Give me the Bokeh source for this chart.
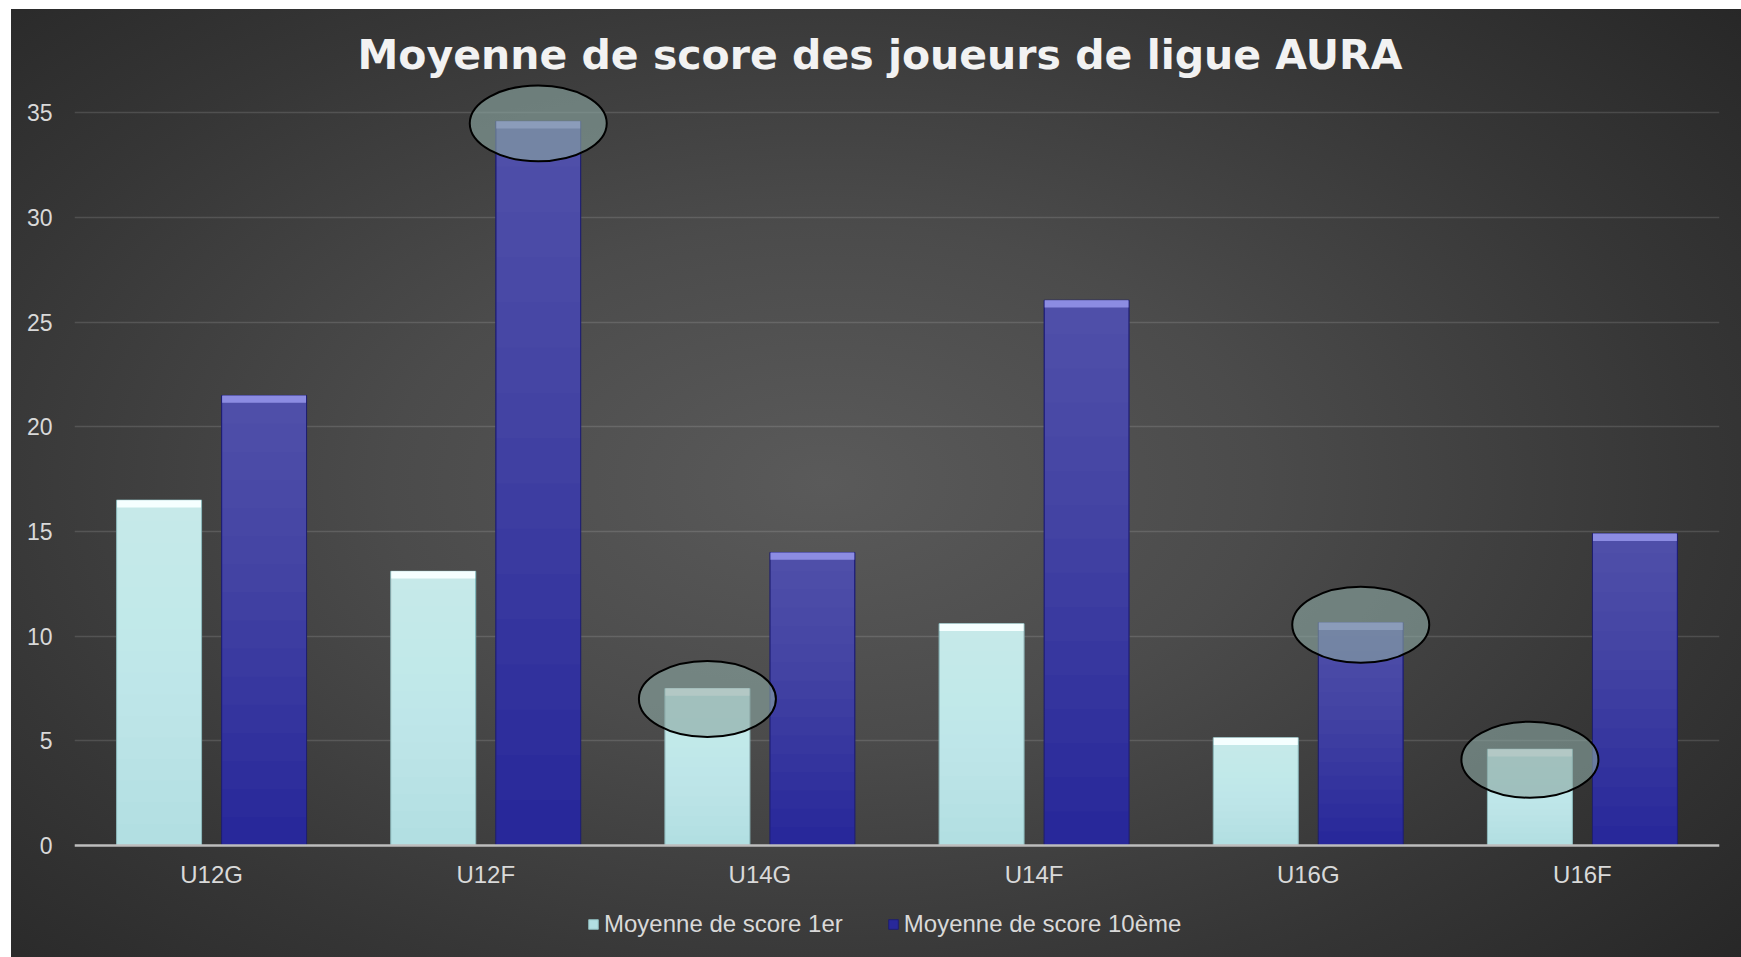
from bokeh.plotting import figure
from bokeh.models import (ColumnDataSource, FixedTicker, Legend, LegendItem, Range1d)
from bokeh.transform import dodge
from bokeh.embed import file_html
from bokeh.resources import INLINE

# ---- data ----
categories = ["U12G", "U12F", "U14G", "U14F", "U16G", "U16F"]
score_1er = [16.5, 13.1, 7.5, 10.6, 5.15, 4.6]
score_10eme = [21.5, 34.6, 14.0, 26.05, 10.65, 14.9]
series_names = ["Moyenne de score 1er", "Moyenne de score 10ème"]
y_ticks = [0, 5, 10, 15, 20, 25, 30, 35]
title_text = "Moyenne de score des joueurs de ligue AURA"
# bars circled in the reference
circled_1er = ["U14G", "U16F"]
circled_10eme = ["U12F", "U16G"]

FONT = "Liberation Sans"
LIGHT_BASE = "#b2dfe2"
LIGHT_OVER = "#e8ffff"
LIGHT_TOP = "#f5ffff"
DARK_BASE = "#28289a"
DARK_OVER = "#ffffff"
DARK_TOP = "#8c8ce2"
N_LAYERS = 16

data = dict(cat=categories, s1=score_1er, s10=score_10eme,
            s1_bev=[v - 0.35 for v in score_1er],
            s10_bev=[v - 0.35 for v in score_10eme])
for k in range(1, N_LAYERS):
    data[f"s1_b{k}"] = [v * k / N_LAYERS for v in score_1er]
    data[f"s10_b{k}"] = [v * k / N_LAYERS for v in score_10eme]
src = ColumnDataSource(data)

# layout: frame from top border to figure bottom; value axis 0..36.5 over 764 px
FIG_W, FIG_H = 1730, 948
B_LEFT, B_RIGHT, B_TOP = 63, 22, 72
Y_TOP = 36.5
PPU = 764 / Y_TOP
frame_h = FIG_H - B_TOP
y_start = Y_TOP - frame_h / PPU

p = figure(x_range=categories, y_range=Range1d(y_start, Y_TOP),
           width=FIG_W, height=FIG_H, output_backend="svg", toolbar_location=None,
           min_border_left=B_LEFT, min_border_right=B_RIGHT, min_border_top=B_TOP,
           min_border_bottom=0)

p.background_fill_alpha = 0
p.border_fill_alpha = 0
p.outline_line_color = None
p.styles = {
    "margin-left": "11px",
    "margin-top": "9px",
    "background": "radial-gradient(ellipse 72% 78% at 47% 50%, #5a5a5a 0%, #4b4b4b 35%, #363636 70%, #262626 100%)",
}

OFF = 0.1915
W = 0.31
xl = dodge("cat", -OFF, range=p.x_range)
xd = dodge("cat", OFF, range=p.x_range)

# light series (1er)
r1 = p.vbar(x=xl, top="s1", width=W, source=src,
            fill_color=LIGHT_BASE, line_color="#8cb8bb", line_width=1)
for k in range(1, N_LAYERS):
    p.vbar(x=xl, top="s1", bottom=f"s1_b{k}", width=W - 0.004, source=src,
           fill_color=LIGHT_OVER, fill_alpha=0.045, line_color=None)
p.vbar(x=xl, top="s1", bottom="s1_bev", width=W - 0.004, source=src,
       fill_color=LIGHT_TOP, line_color=None)

# dark series (10ème)
r10 = p.vbar(x=xd, top="s10", width=W, source=src,
             fill_color=DARK_BASE, line_color="#1e1e6e", line_width=1)
for k in range(1, N_LAYERS):
    p.vbar(x=xd, top="s10", bottom=f"s10_b{k}", width=W - 0.004, source=src,
           fill_color=DARK_OVER, fill_alpha=0.016, line_color=None)
p.vbar(x=xd, top="s10", bottom="s10_bev", width=W - 0.004, source=src,
       fill_color=DARK_TOP, line_color=None)

# circled bars
e1 = ColumnDataSource(dict(cat=circled_1er,
                           y=[score_1er[categories.index(c)] - 0.5 for c in circled_1er]))
e10 = ColumnDataSource(dict(cat=circled_10eme,
                            y=[score_10eme[categories.index(c)] - 0.1 for c in circled_10eme]))
for s, off in ((e1, -OFF), (e10, OFF)):
    p.ellipse(x=dodge("cat", off, range=p.x_range), y="y", width=137, height=76,
              width_units="screen", height_units="screen", source=s,
              fill_color="#8aa6a2", fill_alpha=0.62, line_color="#000000", line_width=2)

# title
p.title.text = title_text
p.title.align = "left"
p.title.offset = 283
p.title.text_font = "DejaVu Sans"
p.title.text_font_style = "bold"
p.title.text_font_size = "41px"
p.title.text_color = "#f2f2f2"
p.title.standoff = 5

# axes
p.yaxis.ticker = FixedTicker(ticks=y_ticks)
p.yaxis.axis_line_color = None
p.yaxis.major_tick_line_color = None
p.yaxis.minor_tick_line_color = None
p.yaxis.major_tick_out = 0
p.yaxis.major_tick_in = 0
p.yaxis.major_label_standoff = 22
p.yaxis.major_label_text_font = FONT
p.yaxis.major_label_text_font_size = "23px"
p.yaxis.major_label_text_color = "#d9d9d9"

p.xaxis.fixed_location = 0
p.xaxis.axis_line_color = "#bdbdbd"
p.xaxis.axis_line_width = 2.5
p.xaxis.major_tick_line_color = None
p.xaxis.minor_tick_line_color = None
p.xaxis.major_tick_out = 0
p.xaxis.major_tick_in = 0
p.xaxis.major_label_standoff = 15
p.xaxis.major_label_text_font = FONT
p.xaxis.major_label_text_font_size = "24px"
p.xaxis.major_label_text_color = "#d9d9d9"

p.xgrid.grid_line_color = None
p.ygrid.grid_line_color = "#ffffff"
p.ygrid.grid_line_alpha = 0.13
p.ygrid.grid_line_width = 1.5

legend = Legend(items=[LegendItem(label=series_names[0], renderers=[r1]),
                       LegendItem(label=series_names[1], renderers=[r10])],
                orientation="horizontal", location=(513, 19),
                background_fill_alpha=0, border_line_color=None,
                glyph_width=12, glyph_height=12, label_height=12,
                label_standoff=5, spacing=44, padding=0, margin=0,
                label_text_font=FONT, label_text_font_size="24px",
                label_text_color="#d9d9d9")
p.add_layout(legend, "center")

open("out.html", "w").write(file_html(p, INLINE))
